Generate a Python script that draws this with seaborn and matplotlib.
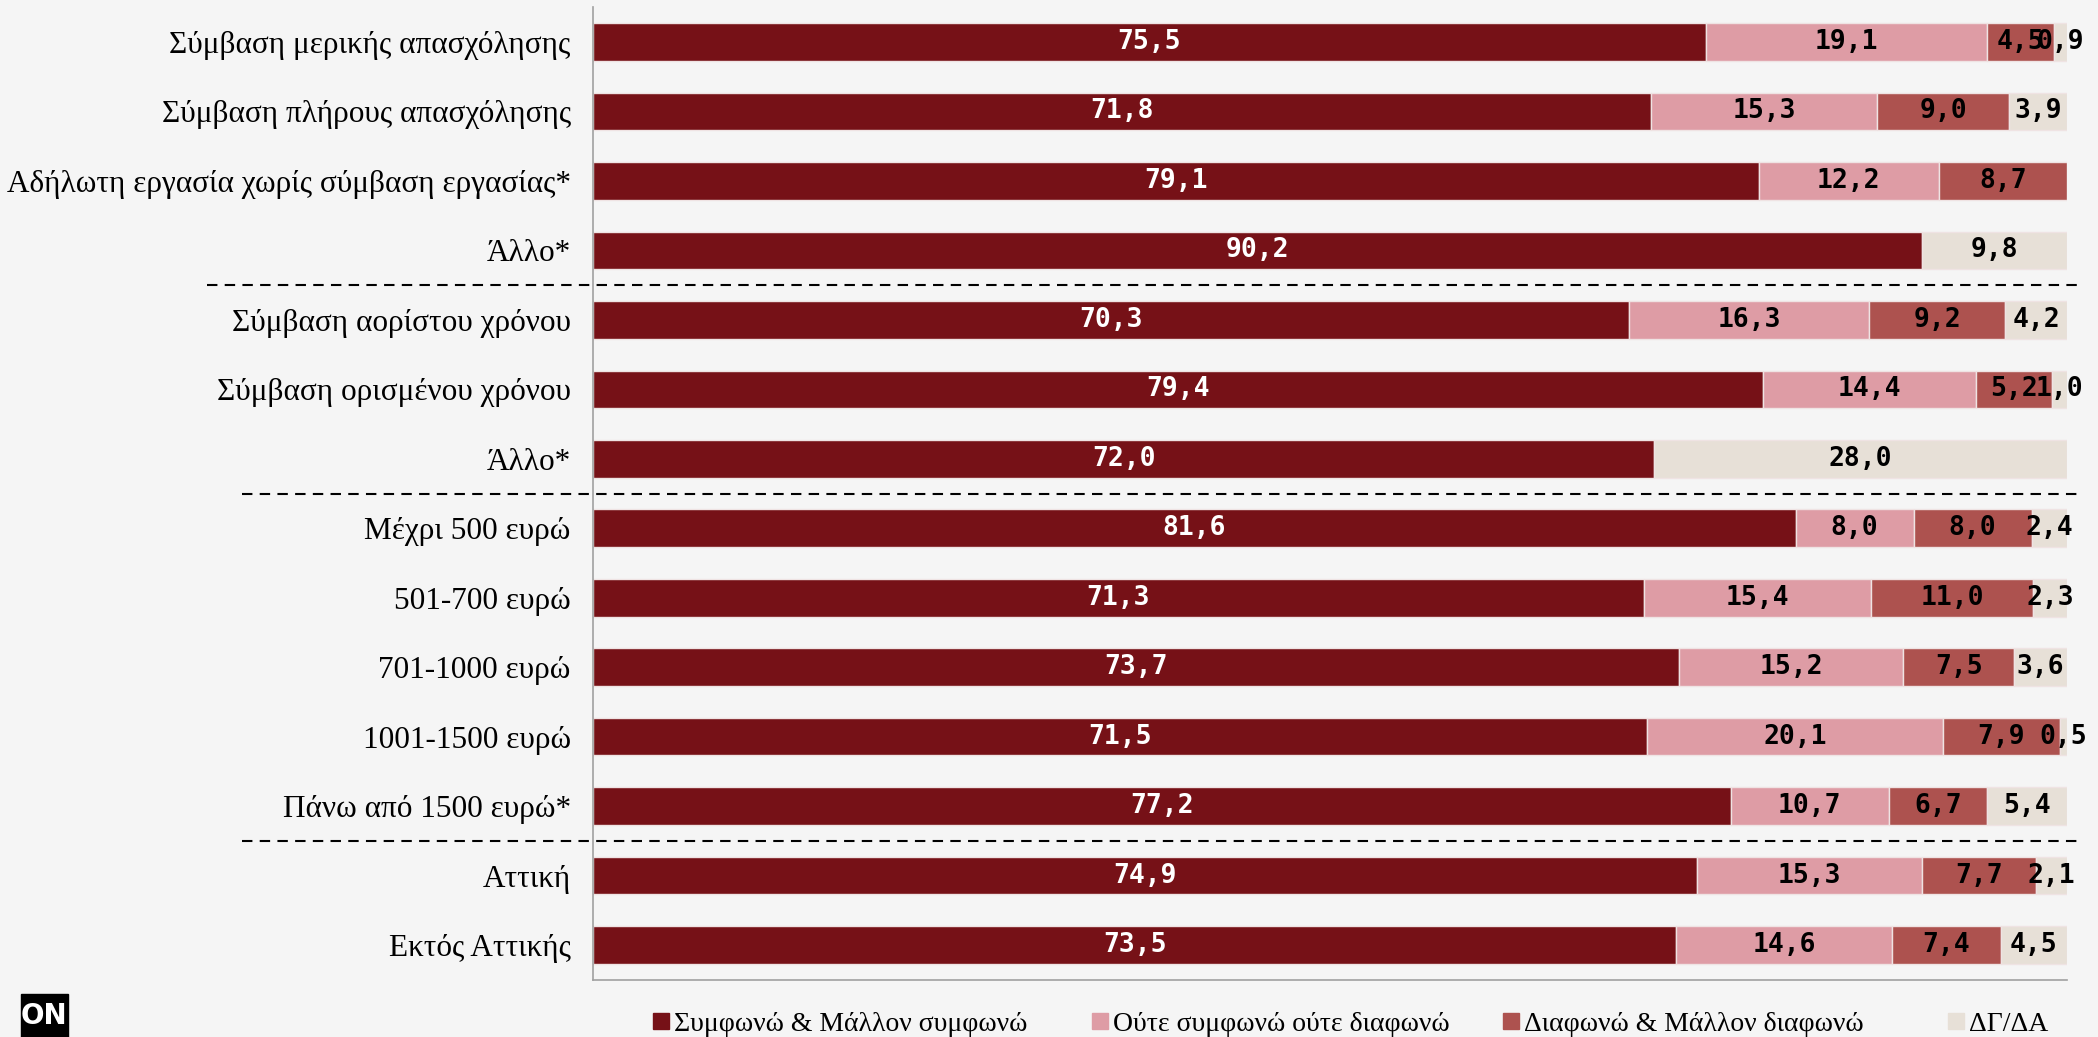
import numpy as np
import pandas as pd
import seaborn as sns
import matplotlib.pyplot as plt
from matplotlib.lines import Line2D
from matplotlib.patches import Rectangle

categories = [
    "Σύμβαση μερικής απασχόλησης",
    "Σύμβαση πλήρους απασχόλησης",
    "Αδήλωτη εργασία χωρίς σύμβαση εργασίας*",
    "Άλλο*",
    "Σύμβαση αορίστου χρόνου",
    "Σύμβαση ορισμένου χρόνου",
    "Άλλο*",
    "Μέχρι 500 ευρώ",
    "501-700 ευρώ",
    "701-1000 ευρώ",
    "1001-1500 ευρώ",
    "Πάνω από 1500 ευρώ*",
    "Αττική",
    "Εκτός Αττικής",
]
series = ["Συμφωνώ & Μάλλον συμφωνώ", "Ούτε συμφωνώ ούτε διαφωνώ",
          "Διαφωνώ & Μάλλον διαφωνώ", "ΔΓ/ΔΑ"]
agree = [75.5, 71.8, 79.1, 90.2, 70.3, 79.4, 72.0, 81.6, 71.3, 73.7, 71.5, 77.2, 74.9, 73.5]
neutral = [19.1, 15.3, 12.2, 0, 16.3, 14.4, 0, 8.0, 15.4, 15.2, 20.1, 10.7, 15.3, 14.6]
disagree = [4.5, 9.0, 8.7, 0, 9.2, 5.2, 0, 8.0, 11.0, 7.5, 7.9, 6.7, 7.7, 7.4]
dkna = [0.9, 3.9, 0, 9.8, 4.2, 1.0, 28.0, 2.4, 2.3, 3.6, 0.5, 5.4, 2.1, 4.5]

colors = ["#761117", "#DE9CA5", "#AD524F", "#E7E0D7"]
text_colors = ["white", "black", "black", "black"]
bg = "#F5F5F5"
serif = "Liberation Serif"

df = pd.DataFrame({"pos": range(len(categories)),
                   series[0]: agree, series[1]: neutral,
                   series[2]: disagree, series[3]: dkna})

fig = plt.figure(figsize=(20.98, 10.37), dpi=100, facecolor=bg)
ax = fig.add_axes([0.2826, 0.055, 0.7026, 0.9382])
ax.set_facecolor(bg)

left = np.zeros(len(df))
for s, c, tc in zip(series, colors, text_colors):
    vals = df[s].values.astype(float)
    sns.barplot(data=df, x=s, y="pos", orient="y", color=c, saturation=1,
                width=0.54, left=left, edgecolor="#EFE3E3",
                linewidth=np.where(vals > 0, 1.0, 0.0), ax=ax)
    for i, v in enumerate(vals):
        if v > 0:
            ax.text(left[i] + v / 2, i, f"{v:.1f}".replace(".", ","),
                    ha="center", va="center", color=tc, fontsize=19,
                    fontweight="bold", family="DejaVu Sans Mono")
    left = left + vals

ax.set_xlim(0, 100)
ax.set_ylim(13.5, -0.5)
ax.set_yticks(range(len(categories)))
ax.set_yticklabels(categories, family=serif, fontsize=22.5)
ax.tick_params(axis="y", length=0, pad=16)
ax.set_xticks([])
ax.set_xlabel("")
ax.set_ylabel("")
for sp in ["top", "right"]:
    ax.spines[sp].set_visible(False)
for sp in ["left", "bottom"]:
    ax.spines[sp].set_color("#A0A0A0")
    ax.spines[sp].set_linewidth(1.2)

# group separators
for yv, x0 in [(3.5, -26.2), (6.5, -23.8), (11.5, -23.8)]:
    ax.plot([x0, 101.0], [yv, yv], color="black", lw=1.5,
            linestyle=(0, (5, 3.5)), clip_on=False)

# legend entries placed one by one
legend_x = [650, 1089, 1500, 1945]
for c, s, lx in zip(colors, series, legend_x):
    h = Line2D([], [], marker="s", linestyle="", color=c, markersize=11)
    fig.legend([h], [s], loc="center left", bbox_to_anchor=(lx / 2098, 0.0125),
               frameon=False, prop={"family": serif, "size": 20},
               handletextpad=0.05, handlelength=0.8, borderpad=0, borderaxespad=0)

# logo
fig.patches.append(Rectangle((21 / 2098, 0), 47 / 2098, 43 / 1037,
                             transform=fig.transFigure, color="black"))
fig.text(44 / 2098, 1 - 1016 / 1037, "ON", color="white", fontsize=20,
         fontweight="bold", ha="center", va="center")

fig.savefig("out.png", dpi=100, facecolor=bg)
